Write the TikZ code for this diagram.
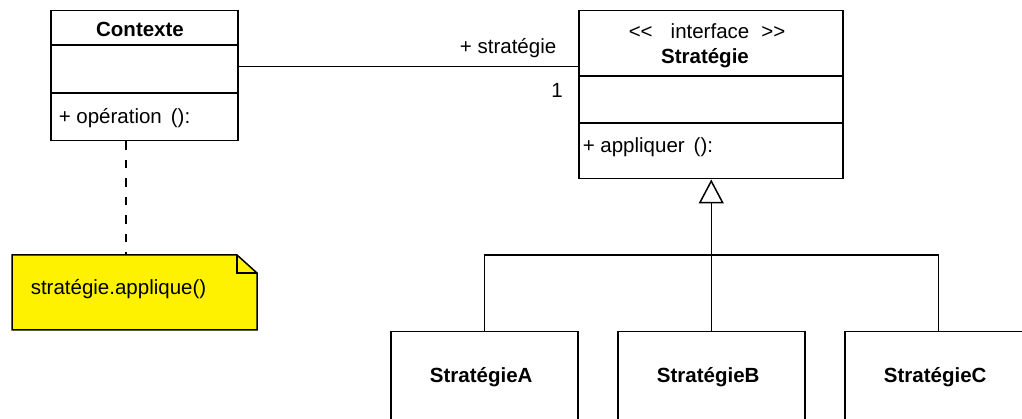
\documentclass[tikz,border=0pt]{standalone}
\usepackage{fontspec}
\setmainfont{Liberation Sans}
\usetikzlibrary{arrows.meta}
\begin{document}
\begin{tikzpicture}[x=1pt,y=-1pt,line width=1.5pt,
  cls/.style={draw,rectangle,inner sep=0pt,anchor=north west},
  txt/.style={inner sep=0pt,font=\fontsize{20.5}{24}\selectfont},
  boldtxt/.style={inner sep=0pt,font=\fontsize{20.5}{24}\selectfont\bfseries},
  notedash/.style={dash pattern=on 8.5pt off 10pt},
  gen/.style={-{Triangle[open,length=24pt,width=25pt]}}]
\useasboundingbox (0,0) rectangle (1022,419);
\clip (0,0) rectangle (1022,419);
% Contexte
\node[cls,minimum width=187pt,minimum height=130pt] (ctx) at (50,10) {};
\draw (50,45) -- (237,45);
\draw (50,93) -- (237,93);
\node[boldtxt] (ctxname) at (140,29) {Contexte};
\node[txt,anchor=west] (ctxop) at (58,118) {+ opération\hspace{9pt}():};
% Strategie
\node[cls,minimum width=264pt,minimum height=168pt] (strat) at (578,10) {};
\draw (578,76) -- (842,76);
\draw (578,123) -- (842,123);
\node[txt,anchor=west] (stereo) at (628,31) {<\kern0pt<\hspace{18pt}interface\hspace{12pt}>\kern0pt>};
\node[boldtxt] (stratname) at (705,58) {Stratégie};
\node[txt,anchor=west] (stratop) at (582,147) {+ appliquer\hspace{9pt}():};
% association
\draw ([yshift=9pt]ctx.east) coordinate (a1) -- (a1 -| strat.west);
\node[txt,anchor=east] (role) at (557,48) {+ stratégie};
\node[txt] (mult) at (557,90) {1};
% subclasses
\node[cls,minimum width=187pt,minimum height=120pt] (sA) at (390,331) {};
\node[cls,minimum width=187pt,minimum height=120pt] (sB) at (617,331) {};
\node[cls,minimum width=187pt,minimum height=120pt] (sC) at (844,331) {};
\node[boldtxt] (nA) at ([xshift=-3pt,yshift=-46pt]sA.north) {StratégieA};
\node[boldtxt] (nB) at ([xshift=-3pt,yshift=-46pt]sB.north) {StratégieB};
\node[boldtxt] (nC) at ([xshift=-3pt,yshift=-46pt]sC.north) {StratégieC};
\coordinate (hub) at ([yshift=76pt]sB.north);
\draw (sA.north) |- (hub);
\draw (sC.north) |- (hub);
\draw (sB.north) -- (hub);
\draw[gen] (hub) -- (hub |- strat.south);
% note
\node[inner sep=0pt,anchor=north west,minimum width=245pt,minimum height=75pt] (note) at (12,255) {};
\filldraw[fill=yellow] (12,255) -- (237,255) -- (257,273) -- (257,330) -- (12,330) -- cycle;
\draw (237,255) -- (237,273) -- (257,273);
\node[txt,anchor=west] (notetxt) at (30,289) {stratégie.applique()};
\draw[notedash] ([xshift=-18.5pt]ctx.south) coordinate (d1) -- (d1 |- note.north);
\end{tikzpicture}
\end{document}
